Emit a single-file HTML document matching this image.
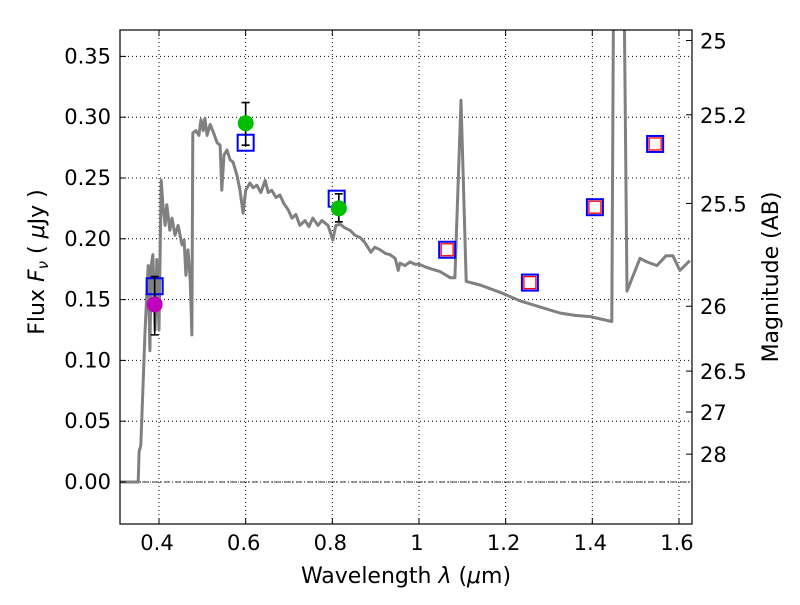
<!DOCTYPE html>
<html><head><meta charset="utf-8"><style>
body{margin:0;background:#fff;}
svg text{font-family:"DejaVu Sans","Liberation Sans",sans-serif;fill:#000;}
</style></head><body>
<svg id="chart" width="800" height="600" xmlns="http://www.w3.org/2000/svg">
<rect width="800" height="600" fill="#fff"/>
<g id="grid"></g>
<g id="plot"></g>
<g id="axes"></g>
<text x="406" y="583" font-size="22" text-anchor="middle">Wavelength  <tspan font-style="italic">λ</tspan> (<tspan font-style="italic">μ</tspan>m)</text>
<text transform="translate(44,262) rotate(-90)" font-size="22" text-anchor="middle">Flux  <tspan font-style="italic">F</tspan><tspan font-style="italic" font-size="15" dy="4">ν</tspan><tspan dy="-4">  ( </tspan><tspan font-style="italic">μ</tspan>Jy )</text>
<text transform="translate(778,277) rotate(-90)" font-size="22" text-anchor="middle">Magnitude (AB)</text>
</svg>
<script>
const xTicks=[0.4,0.6,0.8,1.0,1.2,1.4,1.6];
const xTickLabels=["0.4","0.6","0.8","1","1.2","1.4","1.6"];
const yTicks=[0,0.05,0.10,0.15,0.20,0.25,0.30,0.35];
const yTickLabels=["0.00","0.05","0.10","0.15","0.20","0.25","0.30","0.35"];
const magTicks=[25,25.2,25.5,26,26.5,27,28];
const magTickLabels=["25","25.2","25.5","26","26.5","27","28"];
const sedLambda=[0.31,0.352,0.354,0.358,0.368,0.375,0.379,0.382,0.386,0.391,0.395,0.40,0.405,0.409,0.414,0.418,0.425,0.43,0.437,0.444,0.453,0.458,0.462,0.467,0.472,0.476,0.478,0.485,0.492,0.497,0.502,0.506,0.511,0.518,0.525,0.534,0.541,0.545,0.55,0.557,0.564,0.571,0.58,0.587,0.594,0.6,0.61,0.617,0.626,0.635,0.645,0.652,0.66,0.67,0.679,0.688,0.698,0.707,0.716,0.725,0.737,0.746,0.755,0.767,0.776,0.79,0.801,0.808,0.818,0.829,0.841,0.852,0.864,0.875,0.889,0.898,0.91,0.922,0.933,0.945,0.952,0.956,0.968,0.979,0.991,1.0,1.014,1.03,1.049,1.072,1.083,1.097,1.109,1.141,1.187,1.233,1.279,1.325,1.36,1.395,1.445,1.452,1.468,1.48,1.51,1.526,1.549,1.57,1.586,1.602,1.625];
const sedFlux=[0,0,0.025,0.03,0.125,0.178,0.108,0.178,0.187,0.125,0.183,0.125,0.248,0.228,0.211,0.228,0.207,0.217,0.203,0.211,0.195,0.199,0.170,0.191,0.166,0.121,0.287,0.289,0.285,0.298,0.289,0.299,0.285,0.294,0.288,0.279,0.277,0.240,0.269,0.273,0.265,0.263,0.252,0.240,0.221,0.240,0.246,0.242,0.244,0.238,0.248,0.238,0.240,0.234,0.236,0.229,0.224,0.217,0.220,0.211,0.215,0.210,0.217,0.211,0.215,0.211,0.199,0.211,0.212,0.209,0.207,0.203,0.201,0.197,0.189,0.193,0.191,0.188,0.187,0.184,0.174,0.180,0.178,0.181,0.179,0.179,0.177,0.175,0.173,0.168,0.168,0.314,0.165,0.162,0.156,0.149,0.144,0.139,0.137,0.136,0.132,0.6,0.6,0.157,0.184,0.181,0.178,0.186,0.186,0.174,0.182];
const circLambda=[0.39,0.6,0.815];
const circFlux=[0.146,0.295,0.225];
const circLow=[0.121,0.277,0.214];
const circHigh=[0.169,0.312,0.237];
const circColor=["#bf00bf","#00bf00","#00bf00"];
const blueLambda=[0.39,0.6,0.81];
const blueFlux=[0.161,0.279,0.233];
const redLambda=[1.065,1.256,1.406,1.545];
const redFlux=[0.191,0.164,0.226,0.278];

const L=120,R=692,T=30,B=524;
const xs=v=>159+(v-0.4)*433.3;
const ys=v=>482-v*1216;
const magToFlux=m=>Math.pow(10,(23.9-m)/2.5);
const NS="http://www.w3.org/2000/svg";
function mk(tag,attrs,parent,text){const e=document.createElementNS(NS,tag);for(const k in attrs)e.setAttribute(k,attrs[k]);if(text!==undefined)e.textContent=text;parent.appendChild(e);return e;}
const grid=document.getElementById('grid'),plot=document.getElementById('plot'),axes=document.getElementById('axes');
const svg=document.getElementById('chart');
mk('clipPath',{id:'clip'},svg).appendChild((()=>{const r=document.createElementNS(NS,'rect');r.setAttribute('x',L);r.setAttribute('y',T);r.setAttribute('width',R-L);r.setAttribute('height',B-T);return r;})());
plot.setAttribute('clip-path','url(#clip)');
xTicks.forEach((t,i)=>{
 const x=xs(t);
 const g=mk('line',{x1:x,x2:x,y1:T,y2:B,stroke:'#000','stroke-width':1,'stroke-dasharray':'1,3'},grid);
 
 
 mk('line',{x1:x,x2:x,y1:B,y2:B-6,stroke:'#000'},axes);
 mk('line',{x1:x,x2:x,y1:T,y2:T+6,stroke:'#000'},axes);
 const tl=mk('text',{x:x-2,y:B+26,'font-size':21,'text-anchor':'middle'},axes,xTickLabels[i]);
 
 
});
yTicks.forEach((t,i)=>{
 const y=ys(t);
 const g=mk('line',{x1:L,x2:R,y1:y,y2:y,stroke:'#000','stroke-width':1,'stroke-dasharray':'1,3'},grid);
 
 
 mk('line',{x1:L,x2:L+6,y1:y,y2:y,stroke:'#000'},axes);
 const tl=mk('text',{x:L-9,y:y+7,'font-size':21,'text-anchor':'end'},axes,yTickLabels[i]);
 
 
});
magTicks.forEach((m,i)=>{
 const y=ys(magToFlux(m));
 mk('line',{x1:R-6,x2:R,y1:y,y2:y,stroke:'#000'},axes);
 const tl=mk('text',{x:R+8,y:y+8,'font-size':21},axes,magTickLabels[i]);
 
 
});
const zl=mk('line',{x1:L,x2:R,y1:ys(0),y2:ys(0),stroke:'#000','stroke-width':0.8,'stroke-dasharray':'6,2,1,2'},plot);


const d=sedLambda.map((l,i)=>(i?'L':'M')+xs(l).toFixed(1)+','+ys(sedFlux[i]).toFixed(1)).join('');
const sed=mk('path',{d:d,fill:'none',stroke:'#808080','stroke-width':3,'stroke-linejoin':'round'},plot);


blueLambda.forEach((l,i)=>{
 const s=mk('rect',{x:xs(l)-8,y:ys(blueFlux[i])-8,width:16,height:16,fill:'none',stroke:'#0000ff','stroke-width':2},plot);
 
 
});
circLambda.forEach((l,i)=>{
 const x=xs(l);
 const e=mk('path',{d:`M${x},${ys(circLow[i])}V${ys(circHigh[i])}M${x-4},${ys(circLow[i])}h8M${x-4},${ys(circHigh[i])}h8`,stroke:'#000','stroke-width':1.6,fill:'none'},plot);
 
 
 const c=mk('circle',{cx:x,cy:ys(circFlux[i]),r:8,fill:circColor[i]},plot);
 
 
});
redLambda.forEach((l,i)=>{
 const x=xs(l),y=ys(redFlux[i]);
 const b=mk('rect',{x:x-8,y:y-8,width:16,height:16,fill:'none',stroke:'#0000ff','stroke-width':2},plot);
 
 
 const r=mk('rect',{x:x-6,y:y-6,width:12,height:12,fill:'#fffafa',stroke:'#ff0000','stroke-width':1.3},plot);
 
 
});
const fr=mk('rect',{x:L,y:T,width:R-L,height:B-T,fill:'none',stroke:'#000','stroke-width':1.2},axes);


</script>
</body></html>
